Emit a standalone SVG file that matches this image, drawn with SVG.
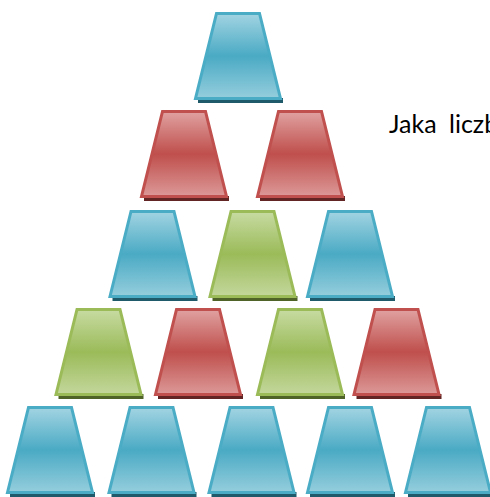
<svg xmlns="http://www.w3.org/2000/svg" xmlns:xlink="http://www.w3.org/1999/xlink" width="490" height="497" viewBox="0 0 490 497">
  <defs>
    <linearGradient id="gBlue" x1="0" y1="0" x2="0" y2="1">
      <stop offset="0" stop-color="#a2d4e2"/>
      <stop offset="0.5" stop-color="#4aaac4"/>
      <stop offset="1" stop-color="#95cedd"/>
    </linearGradient>
    <linearGradient id="gRed" x1="0" y1="0" x2="0" y2="1">
      <stop offset="0" stop-color="#e0a2a1"/>
      <stop offset="0.5" stop-color="#bf4f4c"/>
      <stop offset="1" stop-color="#dc9998"/>
    </linearGradient>
    <linearGradient id="gGreen" x1="0" y1="0" x2="0" y2="1">
      <stop offset="0" stop-color="#c7dba2"/>
      <stop offset="0.5" stop-color="#9bbb59"/>
      <stop offset="1" stop-color="#c3d79c"/>
    </linearGradient>
    <path id="trap" d="M -21.5 1.5 L 21.5 1.5 L 42.5 86.5 L -42.5 86.5 Z"/>
    <rect id="shadow" x="-40" y="86" width="85" height="5"/>
  </defs>
  <style>
    .blue .body { fill: url(#gBlue); stroke: #4bacc6; stroke-width: 3; stroke-linejoin: miter; }
    .red .body { fill: url(#gRed); stroke: #c0504d; stroke-width: 3; stroke-linejoin: miter; }
    .green .body { fill: url(#gGreen); stroke: #9bbb59; stroke-width: 3; stroke-linejoin: miter; }
    .blue .sh { fill: #1f5a6a; }
    .red .sh { fill: #632523; }
    .green .sh { fill: #4f6228; }
    .label { font-family: Lato, "Liberation Sans", sans-serif; font-size: 25px; word-spacing: 6px; fill: #000000; }
  </style>

  <!-- Row 1 -->
  <g id="n1" class="blue" transform="translate(238,12)"><use xlink:href="#shadow" class="sh"/><use xlink:href="#trap" class="body"/></g>
  <!-- Row 2 -->
  <g id="n2" class="red" transform="translate(184,110)"><use xlink:href="#shadow" class="sh"/><use xlink:href="#trap" class="body"/></g>
  <g id="n3" class="red" transform="translate(300,110)"><use xlink:href="#shadow" class="sh"/><use xlink:href="#trap" class="body"/></g>
  <!-- Row 3 -->
  <g id="n4" class="blue" transform="translate(152.5,210)"><use xlink:href="#shadow" class="sh"/><use xlink:href="#trap" class="body"/></g>
  <g id="n5" class="green" transform="translate(252.5,210)"><use xlink:href="#shadow" class="sh"/><use xlink:href="#trap" class="body"/></g>
  <g id="n6" class="blue" transform="translate(350,210)"><use xlink:href="#shadow" class="sh"/><use xlink:href="#trap" class="body"/></g>
  <!-- Row 4 -->
  <g id="n7" class="green" transform="translate(98.5,308)"><use xlink:href="#shadow" class="sh"/><use xlink:href="#trap" class="body"/></g>
  <g id="n8" class="red" transform="translate(198,308)"><use xlink:href="#shadow" class="sh"/><use xlink:href="#trap" class="body"/></g>
  <g id="n9" class="green" transform="translate(300,308)"><use xlink:href="#shadow" class="sh"/><use xlink:href="#trap" class="body"/></g>
  <g id="n10" class="red" transform="translate(396.5,308)"><use xlink:href="#shadow" class="sh"/><use xlink:href="#trap" class="body"/></g>
  <!-- Row 5 -->
  <g id="n11" class="blue" transform="translate(50,406)"><use xlink:href="#shadow" class="sh"/><use xlink:href="#trap" class="body"/></g>
  <g id="n12" class="blue" transform="translate(151.5,406)"><use xlink:href="#shadow" class="sh"/><use xlink:href="#trap" class="body"/></g>
  <g id="n13" class="blue" transform="translate(251.5,406)"><use xlink:href="#shadow" class="sh"/><use xlink:href="#trap" class="body"/></g>
  <g id="n14" class="blue" transform="translate(350,406)"><use xlink:href="#shadow" class="sh"/><use xlink:href="#trap" class="body"/></g>
  <g id="n15" class="blue" transform="translate(448,406)"><use xlink:href="#shadow" class="sh"/><use xlink:href="#trap" class="body"/></g>

  <g id="connectors"/>

  <g id="caption">
    <text class="label" x="389" y="133">Jaka liczb</text>
  </g>
</svg>
